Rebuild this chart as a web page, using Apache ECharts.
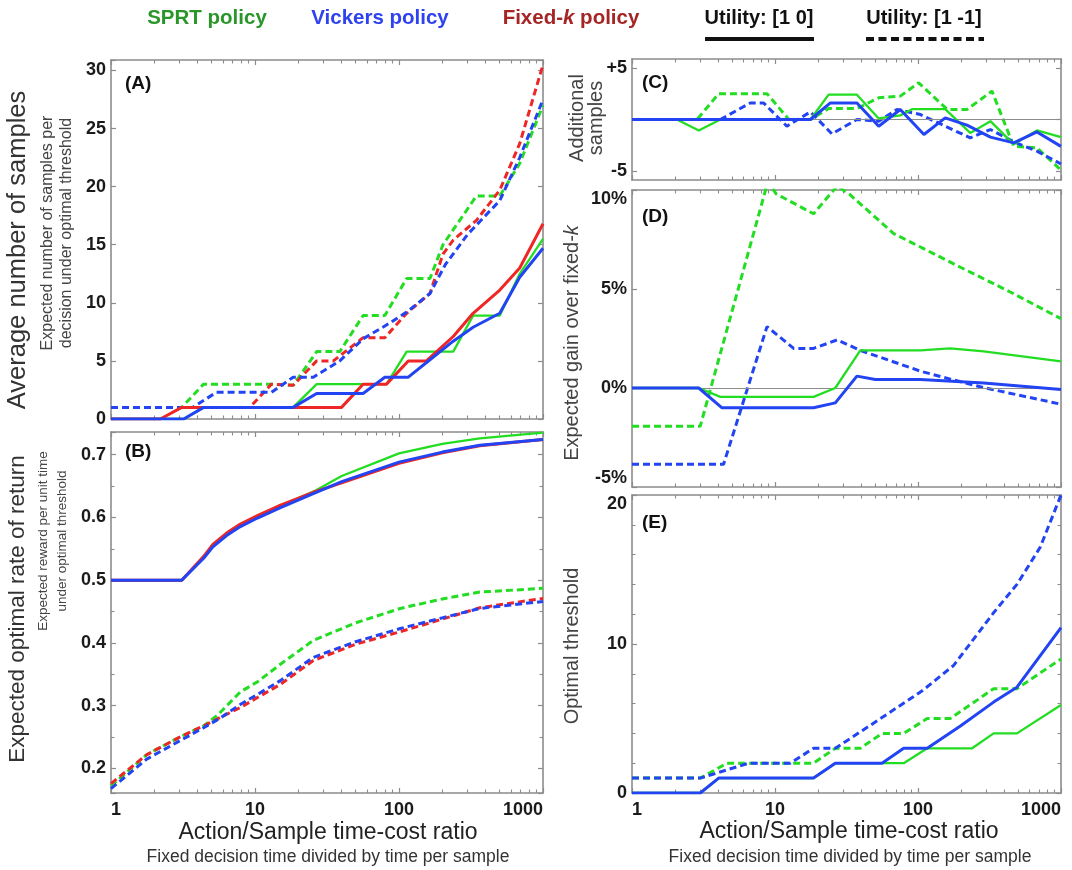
<!DOCTYPE html>
<html><head><meta charset="utf-8">
<script src="https://cdn.jsdelivr.net/npm/echarts@6/dist/echarts.min.js"></script>
<style>html,body{margin:0;padding:0;background:#fff}#c{width:1072px;height:870px}</style>
</head><body><div id="c"></div>
<script>
// ---------- x axis ticks (log) ----------
const xMajorTicks = [1, 10, 100, 1000];
const xMinorTicks = [2,3,4,5,6,7,8,9,20,30,40,50,60,70,80,90,200,300,400,500,600,700,800,900];

// ---------- Panel A : average number of samples ----------
const A_sprt_u10 = [[1,0],[3.2,0],[4.4,1],[18.4,1],[26.8,3],[81.9,3],[113,5.8],[238,5.8],[327,8.9],[501,8.9],[689,12.5],[1000,15.5]];
const A_fixk_u10 = [[1,0],[2.2,0],[3.1,1],[39.9,1],[56.3,3],[81.9,3],[116,5],[155,5],[238,7.1],[327,9.1],[501,11.1],[689,13],[1000,16.8]];
const A_vick_u10 = [[1,0],[3.2,0],[4.4,1],[18.4,1],[26.8,2.2],[56.3,2.2],[79.7,3.6],[116,3.6],[164,5.1],[238,6.7],[327,7.9],[501,9.1],[689,12.2],[1000,14.7]];
const A_sprt_u11 = [[1,1],[3.1,1],[4.4,3],[13,3],[18.4,2.9],[26.8,5.8],[38.8,5.8],[56.3,8.9],[79.7,8.9],[113,12.1],[164,12.1],[202,15],[345,19.2],[501,19.2],[689,22],[1000,27]];
const A_fixk_u11 = [[1,1],[9.2,1],[13,3],[18.4,2.9],[26.8,5],[35,5],[56.3,7],[79.7,7],[113,9.1],[164,10.8],[202,14.2],[238,15.4],[345,17.1],[501,19.7],[689,23.7],[1000,30.5]];
const A_vick_u11 = [[1,1],[3.7,1],[5.4,2.3],[13,2.3],[18.4,3.6],[25.4,3.6],[38.8,5],[56.3,6.9],[79.7,8],[113,9.2],[164,10.8],[210,13.3],[300,15.9],[501,18.8],[689,22.5],[1000,27.5]];

// ---------- Panel B : expected optimal rate of return ----------
const B_sprt_u10 = [[1,0.5],[3.1,0.5],[4.4,0.537],[5.1,0.556],[6.35,0.574],[7.86,0.588],[10.4,0.602],[14.9,0.618],[25.4,0.641],[40,0.666],[100,0.702],[200,0.717],[364,0.726],[1000,0.735]];
const B_fixk_u10 = [[1,0.5],[3.1,0.5],[4.4,0.538],[5.1,0.557],[6.35,0.575],[7.86,0.589],[10.4,0.603],[14.9,0.619],[25.4,0.640],[40,0.655],[100,0.686],[200,0.703],[364,0.714],[1000,0.724]];
const B_vick_u10 = [[1,0.5],[3.1,0.5],[4.4,0.535],[5.1,0.553],[6.35,0.571],[7.86,0.585],[10.4,0.599],[14.9,0.615],[25.4,0.638],[40,0.657],[100,0.688],[200,0.704],[364,0.715],[1000,0.724]];
const B_sprt_u11 = [[1,0.172],[1.77,0.222],[3,0.25],[4.4,0.268],[5.5,0.285],[7.9,0.322],[10.4,0.338],[15,0.366],[25.4,0.404],[50,0.432],[102,0.455],[200,0.47],[364,0.481],[1000,0.487]];
const B_fixk_u11 = [[1,0.176],[1.77,0.222],[3,0.25],[4.4,0.268],[5.7,0.281],[7.9,0.297],[10.4,0.313],[15,0.334],[25.4,0.372],[50,0.398],[102,0.418],[200,0.438],[364,0.456],[1000,0.471]];
const B_vick_u11 = [[1,0.168],[1.77,0.215],[3,0.244],[4.4,0.265],[5.7,0.28],[7.9,0.302],[10.4,0.318],[15,0.34],[25.4,0.377],[50,0.402],[102,0.423],[200,0.44],[364,0.455],[1000,0.466]];

// ---------- Panel C : additional samples ----------
const C_sprt_u10 = [[1,0],[2.06,0],[2.93,-1.06],[4.15,0],[17.7,0],[23.7,2.4],[37.4,2.4],[53.1,0.1],[75.2,0.4],[90.8,1],[155,1],[232,-1.3],[321,-0.16],[467,-2.4],[679,-1.06],[1000,-1.7]];
const C_sprt_u11 = [[1,0],[2.85,0],[4.04,2.5],[8.79,2.5],[12.5,0],[17.7,0],[23.7,1.06],[37.4,1.06],[53.1,2.1],[75.2,2.26],[101,3.55],[160,0.97],[220,0.97],[329,2.74],[467,-2.58],[679,-2.74],[1000,-4.9]];
const C_vick_u10 = [[1,0],[17.7,0],[24.4,1.6],[37.4,1.6],[53.1,-0.65],[75.2,0.97],[110,-1.45],[155,0.16],[220,-0.55],[321,-1.7],[467,-2.26],[679,-1.2],[1000,-2.6]];
const C_vick_u11 = [[1,0],[4.15,0],[6.72,1.6],[8.33,1.6],[12.1,-0.65],[17.7,0.74],[25,-1.39],[37.4,0],[53.1,-0.16],[71.3,0.97],[104,0.48],[155,-0.65],[232,-1.77],[321,-0.97],[467,-2.16],[679,-3.06],[1000,-4.3]];

// ---------- Panel D : expected gain over fixed-k (%) ----------
const D_sprt_u10 = [[1,0],[2.93,0],[4.15,-0.45],[18.6,-0.45],[26.4,0],[39.5,1.9],[104,1.9],[168,2.0],[288,1.85],[1000,1.35]];
const D_vick_u10 = [[1,0],[2.93,0],[4.26,-1.0],[18.6,-1.0],[26.4,-0.75],[37.4,0.6],[50.3,0.43],[104,0.43],[288,0.25],[1000,-0.07]];
const D_sprt_u11 = [[1,-1.93],[3.0,-1.93],[8.9,10.4],[10.2,9.8],[18.6,8.8],[27.2,10.2],[33,9.8],[67.6,7.8],[198,6.1],[442,4.85],[1000,3.5]];
const D_vick_u11 = [[1,-3.85],[4.37,-3.85],[8.79,3.1],[13.5,2.0],[18.6,2.0],[27.2,2.43],[39.5,1.9],[104,0.85],[168,0.45],[288,0.02],[1000,-0.82]];

// ---------- Panel E : optimal threshold ----------
const E_sprt_u10 = [[1,0],[3,0],[4.04,1],[18.6,1],[26.4,2],[79.4,2],[116,3],[239,3],[338,4],[492,4],[1000,5.9]];
const E_vick_u10 = [[1,0],[3,0],[4.04,1],[18.6,1],[26.4,2],[56,2],[79.4,3],[116,3],[198,4.5],[338,6.1],[492,7.1],[1000,11.1]];
const E_sprt_u11 = [[1,1],[3,1],[4.62,2],[18.6,2],[26.4,3],[39.5,3],[56,4],[79.4,4],[116,5],[168,5],[239,6],[338,7],[492,7],[1000,9]];
const E_vick_u11 = [[1,1],[3,1],[6.54,2],[12.8,2],[18.6,3],[26.4,3],[56,5.06],[107,6.86],[177,8.55],[338,12.1],[492,14],[716,16.5],[1000,20]];

// ---------- tick labels ----------
const C_labels = [-5, 5];
const C_ticks = [-5, 0, 5];

// ---------- styling ----------
const FONT = "'Liberation Sans', Arial, Helvetica, sans-serif";
const FRAME = '#8c8c8c';
const GREEN = '#22dd22', BLUE = '#2244f2', RED = '#ee2626';

const grids = [
  {left:111, top:60,  width:432, height:359},  // A
  {left:111, top:432, width:432, height:361},  // B
  {left:632, top:59,  width:429, height:121},  // C
  {left:632, top:190, width:429, height:297},  // D
  {left:632, top:495, width:429, height:298}   // E
];

function xAxes(gi, labels) {
  const base = {type:'log', logBase:10, min:1, max:1000, gridIndex:gi,
    splitLine:{show:false}, minorSplitLine:{show:false}};
  const line = {show:true, onZero:false, lineStyle:{color:FRAME, width:1.6}};
  const tick = {show:true, inside:true, length:5, lineStyle:{color:FRAME, width:1.2}};
  const minor = {show:true, inside:true, length:3.5, customValues:xMinorTicks, lineStyle:{color:FRAME, width:1.1}};
  const lab = labels ? {show:true, fontFamily:FONT, fontWeight:'bold', fontSize:18, color:'#1a1a1a',
    margin:8, alignMinLabel:'left', alignMaxLabel:'right', customValues:xMajorTicks,
    formatter: v => String(Math.round(v))} : {show:false};
  return [
    Object.assign({}, base, {position:'bottom', axisLine:line, axisTick:tick, axisLabel:lab}),
    Object.assign({}, base, {position:'top', axisLine:line, axisTick:tick, axisLabel:{show:false}}),
    Object.assign({}, base, {position:'bottom', axisLine:{show:false, onZero:false}, axisTick:minor, axisLabel:{show:false}}),
    Object.assign({}, base, {position:'top', axisLine:{show:false, onZero:false}, axisTick:minor, axisLabel:{show:false}})
  ];
}

function yAxes(gi, s) {
  const line = {show:true, onZero:false, lineStyle:{color:FRAME, width:1.6}};
  const tick = {show:true, inside:true, length:5, lineStyle:{color:FRAME, width:1.2}};
  if (s.tickCustom) tick.customValues = s.tickCustom;
  const minorTick = s.minor ? {show:true, splitNumber:s.minor, length:3.5, lineStyle:{color:FRAME, width:1.1}} : {show:false};
  const base = {type:'value', gridIndex:gi, min:s.min, max:s.max, splitLine:{show:false}, minorSplitLine:{show:false},
    axisLine:line, axisTick:tick, minorTick:minorTick};
  if (s.interval) base.interval = s.interval;
  const lab = {show:true, fontFamily:FONT, fontWeight:'bold', fontSize:18, color:'#1a1a1a', margin:5, formatter:s.fmt};
  if (s.labelCustom) lab.customValues = s.labelCustom;
  if (s.vMax) lab.verticalAlignMaxLabel = s.vMax;
  if (s.vMin) lab.verticalAlignMinLabel = s.vMin;
  return [
    Object.assign({}, base, {position:'left', axisLabel:lab}),
    Object.assign({}, base, {position:'right', axisLabel:{show:false}})
  ];
}

const ySpecs = [
  {min:0, max:30.9, interval:5, fmt: v => (Math.abs(v % 5) < 1e-9 ? String(v) : '')},
  {min:0.161, max:0.736, minor:2, fmt: v => (Math.abs(v*10 - Math.round(v*10)) < 1e-6 ? v.toFixed(1) : '')},
  {min:-5.85, max:5.85, labelCustom:C_labels, tickCustom:C_ticks, fmt: v => (v > 0 ? '+' + v : String(v))},
  {min:-5, max:10, interval:5, fmt: v => v + '%', vMax:'top', vMin:'bottom'},
  {min:0, max:20, interval:10, minor:5, fmt: v => String(v), vMax:'top'}
];

let xAxis = [], yAxis = [];
grids.forEach((g, i) => {
  xAxis = xAxis.concat(xAxes(i, i === 1 || i === 4));
  yAxis = yAxis.concat(yAxes(i, ySpecs[i]));
});

function ln(gi, data, color, dashed, z) {
  return {type:'line', xAxisIndex:gi*4, yAxisIndex:gi*2, data:data, symbol:'none', showSymbol:false,
    silent:true, clip:true, z:z, animation:false,
    lineStyle:{color:color, width: dashed ? 3 : (color === GREEN ? 2.3 : 3), type: dashed ? [7,4] : 'solid', cap:'butt'},
    itemStyle:{color:color}};
}
function zeroLine(gi) {
  return {type:'line', xAxisIndex:gi*4, yAxisIndex:gi*2, data:[], silent:true, z:1, animation:false,
    markLine:{silent:true, symbol:['none','none'], label:{show:false}, animation:false,
      lineStyle:{color:'#8c8c8c', width:1.2, type:'solid'}, data:[{yAxis:0}]}};
}

const series = [
  zeroLine(2), zeroLine(3),
  ln(0, A_sprt_u11, GREEN, true, 2), ln(0, A_fixk_u11, RED, true, 3), ln(0, A_vick_u11, BLUE, true, 4),
  ln(0, A_sprt_u10, GREEN, false, 5), ln(0, A_fixk_u10, RED, false, 6), ln(0, A_vick_u10, BLUE, false, 7),
  ln(1, B_sprt_u11, GREEN, true, 2), ln(1, B_fixk_u11, RED, true, 3), ln(1, B_vick_u11, BLUE, true, 4),
  ln(1, B_sprt_u10, GREEN, false, 5), ln(1, B_fixk_u10, RED, false, 6), ln(1, B_vick_u10, BLUE, false, 7),
  ln(2, C_sprt_u11, GREEN, true, 2), ln(2, C_vick_u11, BLUE, true, 4),
  ln(2, C_sprt_u10, GREEN, false, 5), ln(2, C_vick_u10, BLUE, false, 7),
  ln(3, D_sprt_u11, GREEN, true, 2), ln(3, D_vick_u11, BLUE, true, 4),
  ln(3, D_sprt_u10, GREEN, false, 5), ln(3, D_vick_u10, BLUE, false, 7),
  ln(4, E_sprt_u11, GREEN, true, 2), ln(4, E_vick_u11, BLUE, true, 4),
  ln(4, E_sprt_u10, GREEN, false, 5), ln(4, E_vick_u10, BLUE, false, 7)
];

function txt(x, y, text, size, opts) {
  opts = opts || {};
  return {type:'text', x:x, y:y, rotation: opts.rot ? Math.PI/2 : 0, z:50,
    style:{text:text, fontFamily:FONT, fontSize:size, fontWeight: opts.bold ? 'bold' : 'normal',
      fill: opts.color || '#333', align: opts.align || 'center', verticalAlign:'middle',
      textAlign: opts.align || 'center', textVerticalAlign:'middle', rich: opts.rich}};
}

const graphic = [
  // legend
  txt(207, 18, 'SPRT policy', 20.5, {bold:true, color:'#2a962a'}),
  txt(380, 18, 'Vickers policy', 20.5, {bold:true, color:'#2f42f0'}),
  txt(571, 18, '{n|Fixed-}{i|k}{n| policy}', 20.5, {bold:true, color:'#a52424',
    rich:{n:{fontFamily:FONT, fontSize:20.5, fontWeight:'bold', fill:'#a52424', color:'#a52424'},
          i:{fontFamily:FONT, fontSize:20.5, fontWeight:'bold', fontStyle:'italic', fill:'#a52424', color:'#a52424'}}}),
  txt(759, 18, 'Utility: [1 0]', 20, {bold:true, color:'#111'}),
  txt(924, 18, 'Utility: [1 -1]', 20, {bold:true, color:'#111'}),
  {type:'line', z:50, shape:{x1:705, y1:39, x2:814, y2:39}, style:{stroke:'#111', lineWidth:4}},
  {type:'line', z:50, shape:{x1:866, y1:39, x2:984, y2:39}, style:{stroke:'#111', lineWidth:4, lineDash:[8,4.5]}},
  // panel letters
  txt(125, 84, '(A)', 19, {bold:true, color:'#111', align:'left'}),
  txt(125, 452, '(B)', 19, {bold:true, color:'#111', align:'left'}),
  txt(642, 83, '(C)', 19, {bold:true, color:'#111', align:'left'}),
  txt(642, 217, '(D)', 19, {bold:true, color:'#111', align:'left'}),
  txt(642, 523, '(E)', 19, {bold:true, color:'#111', align:'left'}),
  // left y titles
  txt(18, 250, 'Average number of samples', 25.5, {rot:true, color:'#333'}),
  txt(48, 233, 'Expected number of samples per', 16, {rot:true, color:'#444'}),
  txt(67, 233, 'decision under optimal threshold', 16, {rot:true, color:'#444'}),
  txt(18, 609, 'Expected optimal rate of return', 22.5, {rot:true, color:'#333'}),
  txt(43, 541, 'Expected reward per unit time', 13.5, {rot:true, color:'#444'}),
  txt(62, 541, 'under optimal threshold', 13.5, {rot:true, color:'#444'}),
  // right y titles
  txt(577, 118, 'Additional', 20, {rot:true, color:'#444'}),
  txt(596, 118, 'samples', 20, {rot:true, color:'#444'}),
  txt(572, 343, '{n|Expected gain over fixed-}{i|k}', 20, {rot:true, color:'#444',
    rich:{n:{fontFamily:FONT, fontSize:20, fill:'#444', color:'#444'},
          i:{fontFamily:FONT, fontSize:20, fontStyle:'italic', fill:'#444', color:'#444'}}}),
  txt(572, 646, 'Optimal threshold', 20, {rot:true, color:'#444'}),
  // x titles
  txt(328, 833, 'Action/Sample time-cost ratio', 23, {color:'#222'}),
  txt(328, 857, 'Fixed decision time divided by time per sample', 17.5, {color:'#333'}),
  txt(849, 832, 'Action/Sample time-cost ratio', 23, {color:'#222'}),
  txt(850, 857, 'Fixed decision time divided by time per sample', 17.5, {color:'#333'})
];

const chart = echarts.init(document.getElementById('c'));
chart.setOption({
  animation:false,
  backgroundColor:'#ffffff',
  textStyle:{fontFamily:FONT},
  grid: grids.map(g => Object.assign({containLabel:false}, g)),
  xAxis: xAxis,
  yAxis: yAxis,
  series: series,
  graphic: graphic
});
</script>
</body></html>
